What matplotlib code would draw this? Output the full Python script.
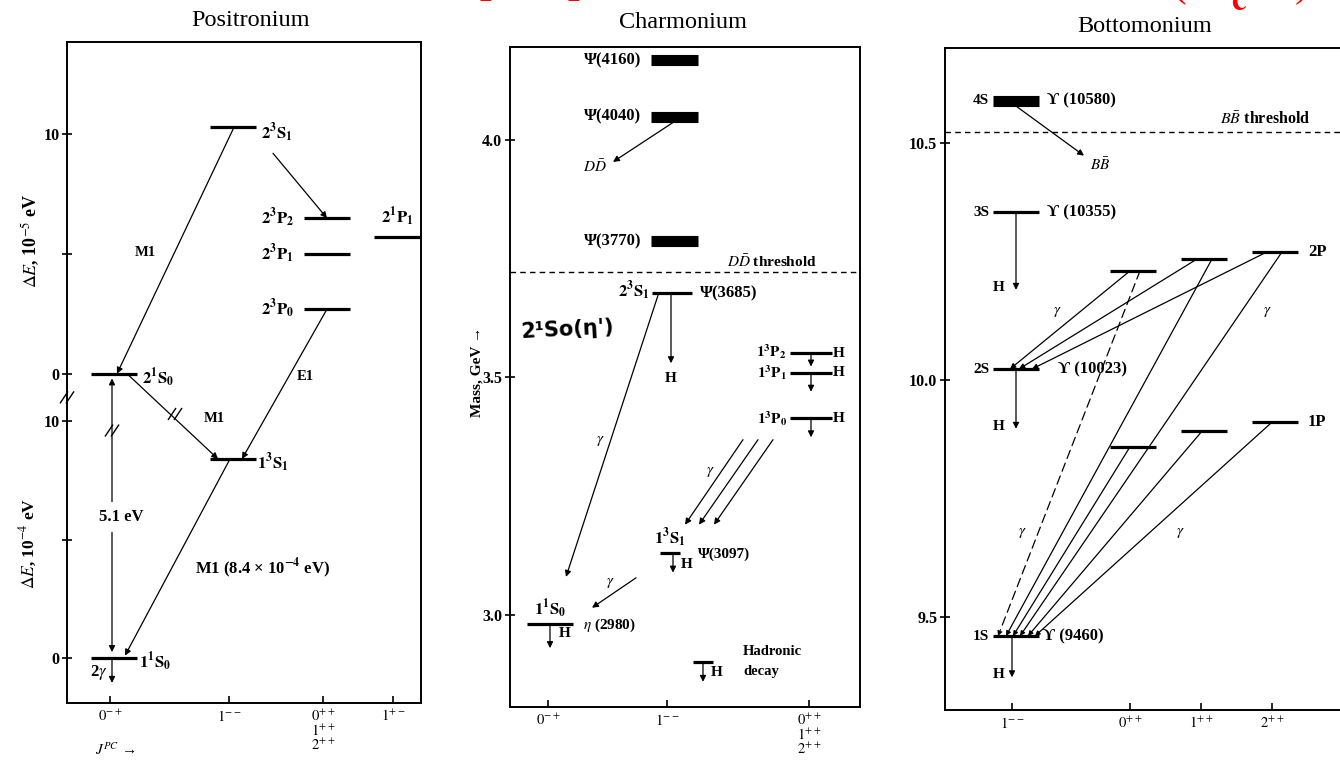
import matplotlib.pyplot as plt

plt.rcParams['font.family'] = ['Liberation Serif', 'DejaVu Serif']
plt.rcParams['mathtext.fontset'] = 'stix'

W, H = 1340, 760

# ---------------- data ----------------
# Positronium: upper levels in 1e-5 eV (n=2), lower levels in 1e-4 eV (n=1)
ps_names = ['2^3S_1', '2^3P_2', '2^3P_1', '2^3P_0', '2^1P_1', '2^1S_0', '1^3S_1', '1^1S_0']
ps_col = [1, 2, 2, 2, 3, 0, 1, 0]
ps_energy = [10.3, 6.5, 5.0, 2.7, 5.7, 0.0, 8.4, 0.0]
ps_unit = ['hi', 'hi', 'hi', 'hi', 'hi', 'hi', 'lo', 'lo']
ps_jpc = [r'$0^{-+}$', r'$1^{--}$', '$0^{++}$\n$1^{++}$\n$2^{++}$', r'$1^{+-}$']
ps_yticks = [0, 5, 10]
ps_yticklabels = ['0', '', '10']

# Charmonium (GeV)
cc_state = ['', '', '', '2^3S_1', '1^3P_2', '1^3P_1', '1^3P_0', '1^3S_1', '1^1S_0']
cc_particle = ['Ψ(4160)', 'Ψ(4040)', 'Ψ(3770)', 'Ψ(3685)', '', '', '', 'Ψ(3097)', r'$\eta$ (2980)']
cc_mass = [4.168, 4.049, 3.787, 3.677, 3.551, 3.510, 3.414, 3.130, 2.981]
cc_col = [1, 1, 1, 1, 2, 2, 2, 1, 0]
cc_broad = [True, True, True, False, False, False, False, False, False]
cc_threshold = 3.722
cc_hadronic = 2.90
cc_jpc = [r'$0^{-+}$', r'$1^{--}$', '$0^{++}$\n$1^{++}$\n$2^{++}$']
cc_yticks = [3.0, 3.5, 4.0]

# Bottomonium (GeV)
bb_s_name = ['4S', '3S', '2S', '1S']
bb_s_particle = ['ϒ (10580)', 'ϒ (10355)', 'ϒ (10023)', 'ϒ (9460)']
bb_s_mass = [10.589, 10.354, 10.023, 9.460]
bb_2p_mass = [10.230, 10.255, 10.270]   # J = 0, 1, 2
bb_1p_mass = [9.859, 9.892, 9.911]
bb_threshold = 10.523
bb_jpc = [r'$1^{--}$', r'$0^{++}$', r'$1^{++}$', r'$2^{++}$']
bb_yticks = [9.5, 10.0, 10.5]

# ---------------- layout ----------------
P_BOX = (67, 42, 421, 703)
C_BOX = (510, 47, 860, 707)
B_BOX = (945, 48, 1350, 710)
ps_col_px = [43, 162, 256, 326]
cc_col_px = [38, 157, 299]
bb_col_px = [67, 185, 256, 327]

fig = plt.figure(figsize=(W / 100, H / 100), dpi=100)


def fx(x):
    return x / W


def fy(y):
    return 1 - y / H


def make_axes(box):
    l, t, r, b = box
    ax = fig.add_axes([l / W, 1 - b / H, (r - l) / W, (b - t) / H])
    ax.set_xlim(0, r - l)
    for s in ax.spines.values():
        s.set_linewidth(1.4)
    ax.tick_params(axis='x', direction='in', length=5, width=1.2, pad=4, labelsize=10.5)
    ax.tick_params(axis='y', direction='inout', length=7, width=1.2, pad=2, labelsize=11.5)
    return ax


def finish_ticks(ax):
    for t in ax.get_yticklabels():
        t.set_fontweight('bold')
    for t in ax.get_xticklabels():
        t.set_linespacing(0.95)


def m(s):
    return r'$\mathbf{' + s + '}$'


def lab(ax, x, y, s, ha='left', va='center', size=12, weight='bold', **kw):
    ax.text(x, y, s, ha=ha, va=va, fontsize=size, fontweight=weight, **kw)


def arrow(ax, x0, y0, x1, y1, head=True, ls='-', ms=9):
    ax.annotate('', xy=(x1, y1), xytext=(x0, y0),
                arrowprops=dict(arrowstyle='-|>' if head else '-', color='k', lw=0.9,
                                shrinkA=0, shrinkB=0, mutation_scale=ms, linestyle=ls))


def brk(ax, x, y, ppu):
    for off in (-3, 3):
        ax.plot([x + off - 4, x + off + 4], [y - 6 / ppu, y + 6 / ppu], color='k', lw=1.0,
                clip_on=False, solid_capstyle='butt')


# ---------------- Positronium ----------------
ax = make_axes(P_BOX)
ax.set_ylim(-1.9, 26.0)
PPU = 23.7


def ps_y(v, unit):
    return v if unit == 'lo' else 12.0 + 1.01 * v


ax.set_yticks([ps_y(t, 'lo') for t in ps_yticks] + [ps_y(t, 'hi') for t in ps_yticks],
              ps_yticklabels + ps_yticklabels)
ax.set_xticks(ps_col_px, ps_jpc)
finish_ticks(ax)

Y, X = {}, {}
for n, c, e, u in zip(ps_names, ps_col, ps_energy, ps_unit):
    Y[n] = ps_y(e, u)
    X[n] = ps_col_px[c] + 4
    ax.hlines(Y[n], X[n] - 23, X[n] + 23, color='k', lw=2.3)

ps_lab = {'2^3S_1': (28, -0.25, 'left', 'center'), '2^3P_2': (-33, 0, 'right', 'center'),
          '2^3P_1': (-33, 0, 'right', 'center'), '2^3P_0': (-33, 0, 'right', 'center'),
          '2^1P_1': (0, 0.35, 'center', 'bottom'), '2^1S_0': (28, -0.2, 'left', 'center'),
          '1^3S_1': (24, -0.2, 'left', 'center'), '1^1S_0': (25, -0.2, 'left', 'center')}
for n in ps_names:
    dx, dy, ha, va = ps_lab[n]
    lab(ax, X[n] + dx, Y[n] + dy, m(n), ha=ha, va=va)

arrow(ax, 167, Y['2^3S_1'], 50, Y['2^1S_0'])
arrow(ax, 206, Y['2^3S_1'] - 1.1, 260, Y['2^3P_2'])
arrow(ax, 260, Y['2^3P_0'], 175, Y['1^3S_1'])
arrow(ax, 60, Y['2^1S_0'], 151, Y['1^3S_1'])
arrow(ax, 163, Y['1^3S_1'], 58, Y['1^1S_0'] + 0.1)
arrow(ax, 45, 6.6, 45, Y['2^1S_0'] - 0.2)
arrow(ax, 45, 5.3, 45, Y['1^1S_0'] + 0.25)
arrow(ax, 45, Y['1^1S_0'], 45, -1.05)
brk(ax, 0, 11.0, PPU)
brk(ax, 45, 9.6, PPU)
brk(ax, 108, 10.3, PPU)

lab(ax, 78, 17.1, 'M1', ha='center', size=10.5)
lab(ax, 238, 11.9, 'E1', ha='center', size=10.5)
lab(ax, 147, 10.1, 'M1', ha='center', size=10.5)
lab(ax, 54, 5.95, '5.1 eV', ha='center')
lab(ax, 32, -0.6, r'2$\gamma$', ha='center')
lab(ax, 195, 3.8, 'M1 (8.4 × 10$^{\\mathbf{-4}}$ eV)', ha='center')

fig.text(fx(31), fy(241), r'$\Delta E$, 10$^{-5}$ eV', rotation=90, ha='center', va='center',
         fontsize=13, fontweight='bold')
fig.text(fx(28), fy(543), r'$\Delta E$, 10$^{-4}$ eV', rotation=90, ha='center', va='center',
         fontsize=12.5, fontweight='bold')
fig.text(fx(95), fy(750), r'$J^{PC}$ →', ha='left', va='center', fontsize=11)
fig.text(fx(251), fy(20), 'Positronium', ha='center', va='center', fontsize=17.5)

# ---------------- Charmonium ----------------
ax = make_axes(C_BOX)
ax.set_ylim(2.806, 4.196)
ax.set_yticks(cc_yticks, ['%.1f' % v for v in cc_yticks])
ax.set_xticks(cc_col_px, cc_jpc)
finish_ticks(ax)

cc_dx = [7, 7, 7, 5, 2, 2, 2, 3, 2]
cc_half = [23.5, 23.5, 23.5, 20, 21, 21, 21, 10, 23]
CX = [cc_col_px[c] + d for c, d in zip(cc_col, cc_dx)]
for x, h, mass, broad in zip(CX, cc_half, cc_mass, cc_broad):
    ax.hlines(mass, x - h, x + h, color='k', lw=8 if broad else 2.3)

for i in range(3):
    lab(ax, 131, cc_mass[i], cc_particle[i], ha='right')
lab(ax, 140, cc_mass[3] + 0.005, m(cc_state[3]), ha='right')
lab(ax, 190, cc_mass[3], cc_particle[3])
for i in (4, 5, 6):
    lab(ax, 277, cc_mass[i] + (0.004 if i == 4 else 0), m(cc_state[i]), ha='right', size=11)
    lab(ax, 323, cc_mass[i], 'H', size=11)
    arrow(ax, CX[i], cc_mass[i], CX[i], cc_mass[i] - (0.028 if i == 4 else 0.04))
lab(ax, CX[7], cc_mass[7] + 0.006, m(cc_state[7]), ha='center', va='bottom')
lab(ax, 188, cc_mass[7] - 0.003, cc_particle[7], size=11)
lab(ax, CX[8], cc_mass[8] + 0.006, m(cc_state[8]), ha='center', va='bottom')
lab(ax, 73, cc_mass[8] - 0.003, cc_particle[8], size=11)

ax.axhline(cc_threshold, color='k', lw=1.0, ls=(0, (4, 3)))
lab(ax, 217, cc_threshold + 0.021, r'$D\bar{D}$ threshold', size=11)

arrow(ax, 163, cc_mass[1] - 0.012, 103, 3.954)
lab(ax, 85, 3.945, r'$D\bar{D}$', ha='center', size=11)
arrow(ax, 161, cc_mass[3], 161, 3.530)
lab(ax, 161, 3.498, 'H', ha='center', size=11)
arrow(ax, 148, cc_mass[3] - 0.004, 56, 3.080)
lab(ax, 90, 3.367, r'$\gamma$', ha='center', size=11)
for x0, x1 in zip([233, 248, 263], [175, 189, 204]):
    arrow(ax, x0, 3.369, x1, 3.190)
lab(ax, 200, 3.300, r'$\gamma$', ha='center', size=11)
arrow(ax, 163, cc_mass[7], 163, 3.089)
lab(ax, 177, 3.107, 'H', ha='center', size=11)
arrow(ax, 126, 3.078, 82, 3.015)
lab(ax, 100, 3.068, r'$\gamma$', ha='center', size=11)
arrow(ax, 40, cc_mass[8], 40, 2.930)
lab(ax, 55, 2.961, 'H', ha='center', size=11)

ax.hlines(cc_hadronic, 183, 203, color='k', lw=2.3)
arrow(ax, 193, cc_hadronic, 193, 2.859)
lab(ax, 207, 2.878, 'H', ha='center', size=11)
lab(ax, 233, 2.922, 'Hadronic', size=10.5)
lab(ax, 233, 2.880, 'decay', size=10.5)

# handwritten annotation on the scan
ax.text(10, 3.60, "2¹So(η')", family=['DejaVu Sans'], fontsize=15,
        fontweight='bold', ha='left', va='center', rotation=3)

fig.text(fx(477), fy(372), 'Mass, GeV →', rotation=90, ha='center', va='center',
         fontsize=11, fontweight='bold')
fig.text(fx(683), fy(22), 'Charmonium', ha='center', va='center', fontsize=17.5)

# ---------------- Bottomonium ----------------
ax = make_axes(B_BOX)
ax.set_ylim(9.304, 10.70)
ax.set_yticks(bb_yticks, ['%.1f' % v for v in bb_yticks])
ax.set_xticks(bb_col_px, bb_jpc)
finish_ticks(ax)

sx = bb_col_px[0] + 4
for i, (n, p, mass) in enumerate(zip(bb_s_name, bb_s_particle, bb_s_mass)):
    ax.hlines(mass, sx - 23, sx + 23, color='k', lw=8 if i == 0 else 2.3)
    lab(ax, 44, mass, n, ha='right', size=11)
    lab(ax, [102, 102, 113, 98][i], mass, p)

px2 = [c + 3 for c in bb_col_px[1:]]
for x, m2, m1 in zip(px2, bb_2p_mass, bb_1p_mass):
    ax.hlines(m2, x - 23, x + 23, color='k', lw=2.3)
    ax.hlines(m1, x - 23, x + 23, color='k', lw=2.3)
lab(ax, 363, bb_2p_mass[2], '2P')
lab(ax, 363, bb_1p_mass[2], '1P')

ax.axhline(bb_threshold, color='k', lw=1.0, ls=(0, (4, 3)))
lab(ax, 275, bb_threshold + 0.027, r'$B\bar{B}$ threshold', size=11.5)
arrow(ax, 72, bb_s_mass[0] - 0.013, 139, 10.473)
lab(ax, 155, 10.455, r'$B\bar{B}$', ha='center', size=11)

for i, yend in zip([1, 2, 3], [10.19, 9.897, 9.373]):
    xh = sx if i < 3 else sx - 4
    arrow(ax, xh, bb_s_mass[i], xh, yend)
    lab(ax, 54, yend + 0.005, 'H', ha='center', size=11)

# 2P -> 2S
for x0, m2, x1 in zip([185, 252, 322], bb_2p_mass, [65, 74, 87]):
    arrow(ax, x0, m2, x1, bb_s_mass[2], ms=8)
# 2P -> 1S
for x0, m2, x1, ls in zip([195, 267, 337], bb_2p_mass, [53, 61, 75], [(0, (7, 4)), '-', '-']):
    arrow(ax, x0, m2, x1, bb_s_mass[3], ls=ls, ms=7)
# 1P -> 1S
for x0, m1, x1 in zip([185, 257, 327], bb_1p_mass, [68, 83, 90]):
    arrow(ax, x0, m1, x1, bb_s_mass[3], ms=7)

lab(ax, 112, 10.143, r'$\gamma$', ha='center', size=11)
lab(ax, 322, 10.143, r'$\gamma$', ha='center', size=11)
lab(ax, 77, 9.677, r'$\gamma$', ha='center', size=11)
lab(ax, 235, 9.677, r'$\gamma$', ha='center', size=11)

fig.text(fx(1145), fy(27), 'Bottomonium', ha='center', va='center', fontsize=17.5)

# red title fragments cut off at the top edge
for x in (491, 579):
    fig.text(fx(x), fy(-8), 'p', color='red', fontsize=30, fontweight='bold',
             ha='center', va='baseline')
fig.text(fx(1170), fy(-3), r'$\mathbf{(\ \Lambda_c^{\ \ +}\ )}$', color='red', fontsize=34,
         ha='left', va='baseline')

fig.savefig('out.png', dpi=100, facecolor='white')
